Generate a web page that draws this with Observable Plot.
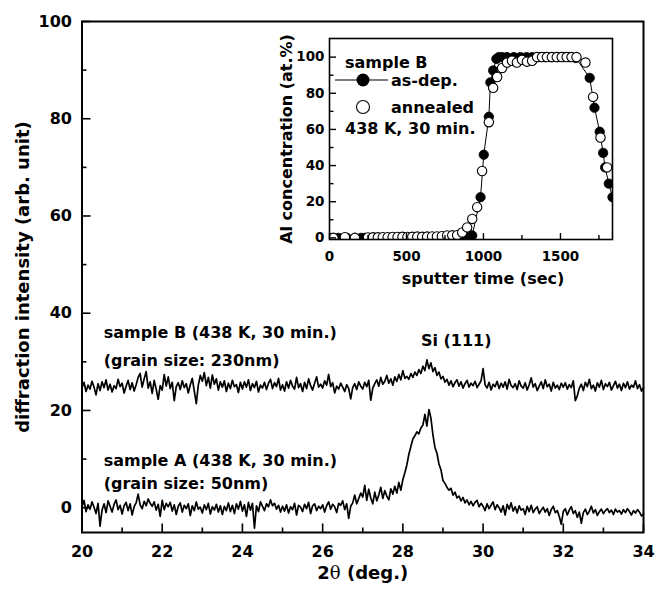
<!DOCTYPE html>
<html><head><meta charset="utf-8">
<script src="https://cdn.jsdelivr.net/npm/d3@7"></script>
<script src="https://cdn.jsdelivr.net/npm/@observablehq/plot@0.6"></script>
<style>
body{margin:0;background:#fff;}
#wrap{position:relative;width:663px;height:593px;}
</style></head><body><div id="wrap"></div><script>
// ---- main XRD traces: 2θ from 20 to 34 in 0.05° steps ----
const thetaStart = 20, thetaStep = 0.05;
const sampleA = [
 0.2, 1.5, -0.8, 0.6, -0.3, 1.2, 0.1, -1.2, 0.9, -3.8, -0.5, 0.8, -1.0, 1.4, 0.3, -0.9, 0.7, 1.6, -0.4, 0.5,
 -1.3, 0.4, 1.1, -0.6, 0.8, -1.5, 0.2, 1.0, 2.8, 0.6, -0.2, 1.3, 0.4, 1.8, 0.9, 0.3, 1.2, -0.5, 0.7, -1.8,
 1.5, -0.4, 0.9, 0.2, 1.1, -0.7, 0.6, -1.4, 0.3, 1.0, -0.9, 0.5, -0.2, 0.8, -1.6, 0.4, -0.6, 1.2, -0.3, 0.1,
 -1.1, 0.6, -0.4, 0.9, -1.3, 0.2, -0.5, 0.7, -0.9, 0.4, -1.4, 0.3, -0.6, 1.0, -0.8, 0.5, -1.2, 0.8, -0.3, 1.3,
 -0.7, 0.6, -1.8, 1.1, -0.5, 0.9, -4.2, 0.4, -0.8, 1.2, 0.3, -0.6, 0.8, 0.2, 1.6, 0.4, 0.9, -0.3, 0.5, -0.9,
 0.3, -0.7, 0.6, -1.1, 0.2, -0.4, 0.9, -1.5, 0.5, 0.1, -0.8, 0.7, -0.2, 1.1, -1.2, 0.4, 0.8, -0.6, 0.3, -0.2,
 0.6, -0.9, 0.4, 1.2, -0.3, 0.7, 0.2, -1.0, 0.9, 0.5, 1.4, -0.4, 0.8, -2.2, 0.3, 1.0, 2.6, 0.8, 1.9, 3.0,
 2.2, 4.6, 1.5, 3.8, 2.0, 0.8, 3.2, 1.4, 2.6, 4.2, 1.9, 3.5, 2.4, 1.6, 3.9, 2.8, 4.4, 3.0, 5.2, 3.6,
 5.8, 7.2, 8.8, 11.0, 12.6, 14.2, 14.8, 15.6, 15.2, 16.4, 17.0, 19.2, 16.8, 20.2, 18.4, 15.0, 12.4, 11.2, 9.0, 7.8,
 5.6, 5.0, 4.2, 3.6, 4.0, 2.6, 3.2, 2.0, 2.4, 1.4, 2.1, 1.0, 1.6, 0.6, 1.3, 0.4, 1.1, 1.5, 0.2, 0.9,
 0.3, -0.6, 0.8, -0.2, 0.5, 1.2, -0.4, 0.6, 0.0, -0.9, 0.4, -1.5, 0.7, -0.3, 1.0, -0.7, 0.2, -1.1, 0.4, -0.5,
 -0.2, -1.4, 0.3, -0.8, 0.5, -1.0, -0.3, 0.2, -1.2, -0.5, 0.1, -0.9, -0.2, -1.6, -0.4, 0.3, -1.0, -0.6, -1.8, -3.4,
 -0.8, -0.2, -1.5, -0.5, 0.2, -1.2, -0.6, -2.0, -0.9, -3.2, -1.0, -0.3, -1.4, -0.7, 0.3, -1.1, -0.4, -1.6, -0.8, -0.3,
 -1.2, -0.6, -0.2, -1.0, -0.5, -1.4, -0.3, -0.9, -0.6, -1.3, -0.4, -1.0, -0.2, -0.8, -1.5, -0.6, -1.1, -0.4, -0.9, -1.7,
 -1.3
];
const sampleB = [
 24.6, 25.8, 23.9, 25.2, 24.4, 26.0, 24.8, 23.2, 25.5, 24.1, 25.9, 24.7, 26.3, 24.2, 25.4, 23.8, 25.1, 24.5, 26.4, 24.9,
 25.6, 23.6, 25.0, 26.2, 24.3, 25.7, 24.0, 25.3, 26.8, 27.6, 24.8, 26.5, 28.0, 24.6, 25.9, 23.5, 26.2, 24.4, 22.3, 25.1,
 24.2, 27.4, 25.0, 26.9, 24.5, 25.8, 22.0, 24.9, 25.7, 24.3, 26.1, 24.7, 25.5, 23.6, 25.3, 26.6, 24.0, 21.4, 25.2, 27.2,
 26.0, 27.8, 25.1, 26.8, 24.6, 27.3, 25.4, 26.5, 24.2, 25.9, 24.8, 26.1, 23.9, 25.6, 24.5, 26.2, 24.9, 25.3, 23.7, 25.8,
 24.4, 25.9, 24.8, 26.3, 24.1, 25.5, 24.7, 26.0, 23.8, 25.2, 24.6, 25.8, 24.3, 25.6, 26.4, 24.5, 25.7, 24.9, 26.6, 24.2,
 25.3, 24.0, 25.9, 24.6, 26.2, 25.0, 24.4, 26.8, 24.7, 25.5, 23.9, 25.8, 24.5, 26.5, 25.1, 24.2, 25.6, 26.9, 24.8, 25.4,
 24.6, 26.1, 25.2, 27.4, 24.9, 25.7, 23.6, 25.0, 24.4, 25.6, 24.8, 23.9, 25.3, 24.5, 22.4, 24.7, 25.5, 24.3, 25.9, 25.0,
 24.4, 25.8, 24.9, 26.2, 22.1, 24.6, 25.5, 26.3, 25.0, 26.8, 25.4, 26.0, 27.2, 25.6, 26.5, 25.2, 26.9, 26.0, 27.4, 26.3,
 28.2, 26.6, 27.0, 26.4, 27.6, 26.8, 27.9, 27.2, 28.4, 27.6, 29.1, 28.2, 30.4, 28.6, 29.8, 28.0, 28.8, 27.2, 27.9, 26.5,
 27.0, 25.8, 26.4, 25.2, 26.1, 24.9, 25.7, 26.3, 25.0, 25.9, 24.6, 25.5, 26.2, 24.8, 25.6, 25.1, 26.0, 24.7, 25.4, 26.1,
 28.6, 25.3, 24.6, 25.8, 24.2, 25.4, 24.9, 26.0, 24.5, 25.6, 24.8, 25.9, 24.4, 26.4, 25.1, 24.7, 25.5, 24.3, 26.1, 25.0,
 24.6, 25.7, 24.2, 25.3, 26.7, 24.8, 25.5, 24.1, 25.0, 25.9, 24.5, 26.3, 24.9, 25.4, 24.0, 25.8, 24.6, 25.2, 24.3, 25.6,
 24.8, 25.7, 24.4, 25.3, 24.7, 26.1, 22.0, 23.0, 24.6, 25.4, 24.1, 25.8, 24.9, 26.4, 24.5, 25.2, 24.0, 25.7, 24.8, 26.2,
 24.3, 25.5, 24.9, 25.8, 24.2, 25.1, 26.0, 24.6, 25.4, 24.1, 25.6, 24.7, 25.9, 24.4, 25.2, 24.8, 26.1, 24.5, 25.3, 24.0,
 24.7
];
const xMajor = [20, 22, 24, 26, 28, 30, 32, 34];
const xMinor = [21, 23, 25, 27, 29, 31, 33];
const yMajor = [0, 20, 40, 60, 80, 100];
const yMinor = [10, 30, 50, 70, 90];
const xLabel = "2θ (deg.)";
const yLabel = "diffraction intensity (arb. unit)";
const annotationText = ["sample B (438 K, 30 min.)", "(grain size: 230nm)", "Si (111)", "sample A (438 K, 30 min.)", "(grain size: 50nm)"];
const annotationX = [20.54, 20.54, 28.45, 20.54, 20.54];
const annotationY = [36.0, 30.2, 34.4, 9.7, 4.9];

// ---- inset: Al depth profile ----
const asDepTime = [0, 58, 112, 205, 232, 290, 345, 400, 455, 510, 565, 620, 675, 730, 785, 840, 895, 927, 981, 1002, 1035, 1045, 1063, 1084, 1100, 1121, 1153, 1197, 1240, 1280, 1316, 1360, 1400, 1440, 1480, 1520, 1560, 1600, 1690, 1721, 1755, 1777, 1790, 1814, 1838];
const asDepConc = [0, 0, 0, 0, 0, 0, 0, 0, 0, 0, 0, 0, 0, 0, 0, 0, 0.4, 1.3, 22.5, 46, 67, 86, 92.6, 99, 100, 100, 100, 100, 100, 100, 100, 100, 100, 100, 100, 100, 100, 99.5, 88.5, 72, 58.7, 47, 39, 30, 22.5];
const annealedTime = [25, 100, 165, 250, 282, 314, 346, 378, 410, 442, 474, 506, 538, 570, 602, 634, 666, 698, 730, 764, 797, 829, 862, 894, 927, 959, 991, 1035, 1063, 1089, 1121, 1153, 1185, 1217, 1250, 1282, 1316, 1348, 1380, 1412, 1444, 1476, 1508, 1540, 1572, 1604, 1662, 1712, 1760, 1803];
const annealedConc = [0, 0.4, 0, 0.2, 0.3, 0.3, 0.4, 0.4, 0.5, 0.5, 0.6, 0.5, 0.6, 0.7, 0.6, 0.7, 0.8, 0.8, 0.9, 1.3, 1.4, 1.5, 3.0, 5.8, 10.5, 17, 37, 64, 83, 89, 94, 97, 98, 97, 98.5, 97.5, 98, 100, 100, 100, 100, 100, 100, 100, 100, 100, 97, 78, 55.5, 39];
const insetXMajor = [0, 500, 1000, 1500];
const insetXMinor = [250, 750, 1250, 1750];
const insetYMajor = [0, 20, 40, 60, 80, 100];
const insetYMinor = [10, 30, 50, 70, 90];
const insetXLabel = "sputter time (sec)";
const insetYLabel = "Al concentration (at.%)";
const legendTitle = "sample B";
const legendSeries = ["as-dep.", "annealed"];
const legendNote = "438 K, 30 min.";

// ---- build tables ----
const rowsA = sampleA.map((v, i) => ({t: thetaStart + i * thetaStep, v}));
const rowsB = sampleB.map((v, i) => ({t: thetaStart + i * thetaStep, v}));
const annotations = annotationText.map((text, i) => ({text, x: annotationX[i], y: annotationY[i]}));
const asDep = asDepTime.map((t, i) => ({t, c: asDepConc[i]}));
const annealed = annealedTime.map((t, i) => ({t, c: annealedConc[i]}));

const FONT = "DejaVu Sans";
const baseStyle = {fontFamily: FONT, fontWeight: "bold", fontSize: "16px", color: "black"};

const main = Plot.plot({
  width: 663, height: 593,
  marginLeft: 81.5, marginRight: 20, marginTop: 21, marginBottom: 61,
  style: {...baseStyle, background: "white"},
  x: {domain: [20, 34]},
  y: {domain: [-5.1, 100]},
  marks: [
    Plot.line(rowsB, {x: "t", y: "v", stroke: "black", strokeWidth: 1.7}),
    Plot.line(rowsA, {x: "t", y: "v", stroke: "black", strokeWidth: 1.7}),
    Plot.axisX({ticks: xMajor, tickSize: 0, tickPadding: 13, fontSize: 16, label: null, tickFormat: d => String(d)}),
    Plot.axisX({ticks: xMajor, tickSize: -8.5, fill: "none", strokeWidth: 1.6, label: null}),
    Plot.axisX({ticks: xMinor, tickSize: -4.5, fill: "none", strokeWidth: 1.6, label: null}),
    Plot.axisY({ticks: yMajor, tickSize: 0, tickPadding: 10, fontSize: 16, label: null, tickFormat: d => String(d)}),
    Plot.axisY({ticks: yMajor, tickSize: -9, fill: "none", strokeWidth: 1.6, label: null}),
    Plot.axisY({ticks: yMinor, tickSize: -5, fill: "none", strokeWidth: 1.6, label: null}),
    Plot.frame({stroke: "black", strokeWidth: 2}),
    Plot.text(annotations, {x: "x", y: "y", text: "text", textAnchor: "start", fontSize: 16}),
    Plot.text([xLabel], {text: d => d, frameAnchor: "bottom", textAnchor: "middle", dy: 46, fontSize: 18}),
    Plot.text([yLabel], {text: d => d, frameAnchor: "left", textAnchor: "middle", dx: -59, rotate: -90, fontSize: 18})
  ]
});

const inset = Plot.plot({
  width: 352, height: 265,
  marginLeft: 59, marginRight: 10, marginTop: 8, marginBottom: 56,
  style: {...baseStyle},
  x: {domain: [0, 1838]},
  y: {domain: [-0.9, 110.3]},
  marks: [
    Plot.line(asDep, {x: "t", y: "c", stroke: "black", strokeWidth: 1, clip: true}),
    Plot.dot(asDep, {x: "t", y: "c", r: 4.7, fill: "black", stroke: "black", strokeWidth: 0.8, clip: true}),
    Plot.dot(annealed, {x: "t", y: "c", r: 4.7, fill: "white", stroke: "black", strokeWidth: 1.1, clip: true}),
    Plot.axisX({ticks: insetXMajor, tickSize: 0, tickPadding: 12, fontSize: 13.5, label: null, tickFormat: d => String(d)}),
    Plot.axisX({ticks: insetXMajor, tickSize: -6, fill: "none", strokeWidth: 1.4, label: null}),
    Plot.axisX({ticks: insetXMinor, tickSize: -4, fill: "none", strokeWidth: 1.4, label: null}),
    Plot.axisY({ticks: insetYMajor, tickSize: 0, tickPadding: 5, fontSize: 13.5, label: null, tickFormat: d => String(d)}),
    Plot.axisY({ticks: insetYMajor, tickSize: -7, fill: "none", strokeWidth: 1.4, label: null}),
    Plot.axisY({ticks: insetYMinor, tickSize: -4.5, fill: "none", strokeWidth: 1.4, label: null}),
    Plot.frame({stroke: "black", strokeWidth: 1.6}),
    Plot.text([insetXLabel], {text: d => d, frameAnchor: "bottom", textAnchor: "middle", dy: 44, dx: 12, fontSize: 16}),
    Plot.text([insetYLabel], {text: d => d, frameAnchor: "left", textAnchor: "middle", dx: -43, rotate: -90, fontSize: 16})
  ]
});

// legend inside the inset
const lg = d3.select(inset).append("g")
  .attr("font-family", FONT).attr("font-weight", "bold").attr("font-size", 16)
  .attr("fill", "black").attr("text-anchor", "start");
lg.append("text").attr("x", 75).attr("y", 32).attr("dy", "0.35em").text(legendTitle);
lg.append("line").attr("x1", 65).attr("x2", 118).attr("y1", 50).attr("y2", 50).attr("stroke", "black").attr("stroke-width", 1.2);
lg.append("circle").attr("cx", 93).attr("cy", 50).attr("r", 6.5).attr("fill", "black");
lg.append("text").attr("x", 121).attr("y", 50).attr("dy", "0.35em").text(legendSeries[0]);
lg.append("circle").attr("cx", 93).attr("cy", 77).attr("r", 6.5).attr("fill", "white").attr("stroke", "black").attr("stroke-width", 1.1);
lg.append("text").attr("x", 121).attr("y", 77).attr("dy", "0.35em").text(legendSeries[1]);
lg.append("text").attr("x", 75).attr("y", 98).attr("dy", "0.35em").text(legendNote);

// serif theta in x label
d3.select(main).selectAll("text").filter(function () { return this.textContent === xLabel; }).each(function () {
  const t = d3.select(this);
  t.text(null);
  t.append("tspan").text("2");
  t.append("tspan").attr("font-family", "DejaVu Serif").attr("font-weight", "normal").text("θ");
  t.append("tspan").text(" (deg.)");
});

const wrap = document.getElementById("wrap");
wrap.appendChild(main);
inset.style.position = "absolute";
inset.style.left = "270px";
inset.style.top = "30px";
wrap.appendChild(inset);
</script></body></html>
